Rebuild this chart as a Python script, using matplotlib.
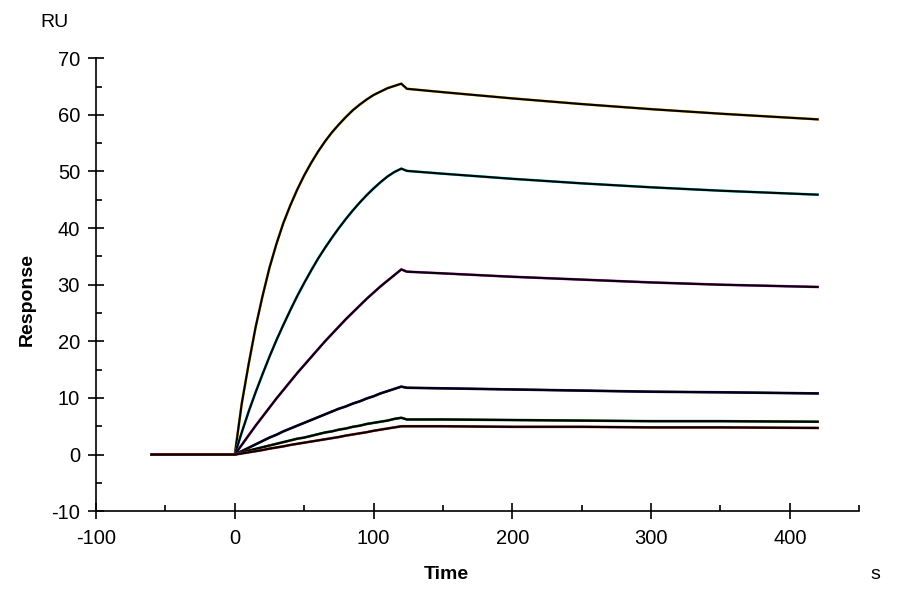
import numpy as np
import matplotlib
matplotlib.use('Agg')
import matplotlib.pyplot as plt
from matplotlib.ticker import MultipleLocator

plt.rcParams['axes.unicode_minus'] = False

# Time points (s)
t_base = [-60, -30, 0]
t_assoc = [0, 5, 10, 15, 20, 25, 30, 35, 40, 45, 50, 55, 60,
           65, 70, 75, 80, 85, 90, 95, 100, 105, 110, 115, 120]
t_dissoc = [120, 124, 150, 200, 250, 300, 350, 420]

# Responses (RU), one list per concentration
base = [0, 0, 0]
assoc1 = [0, 9.0, 16.0, 22.5, 28.0, 33.0, 37.2, 40.9, 44.0, 46.8, 49.3, 51.5, 53.5,
          55.3, 56.9, 58.3, 59.6, 60.8, 61.8, 62.7, 63.5, 64.1, 64.7, 65.1, 65.5]
assoc2 = [0, 3.9, 7.6, 11.0, 14.2, 17.3, 20.2, 22.9, 25.5, 28.0, 30.3, 32.5, 34.6,
          36.5, 38.3, 40.0, 41.6, 43.1, 44.5, 45.8, 47.0, 48.1, 49.1, 49.9, 50.5]
assoc3 = [0, 1.7, 3.4, 5.1, 6.7, 8.3, 9.9, 11.4, 12.9, 14.4, 15.8, 17.2, 18.6,
          20.0, 21.3, 22.6, 23.9, 25.1, 26.3, 27.5, 28.6, 29.7, 30.7, 31.7, 32.7]
assoc4 = [0, 0.6, 1.2, 1.8, 2.4, 3.0, 3.5, 4.1, 4.6, 5.1, 5.6, 6.1, 6.6,
          7.1, 7.6, 8.1, 8.5, 9.0, 9.4, 9.9, 10.3, 10.8, 11.2, 11.6, 12.0]
assoc5 = [0, 0.35, 0.7, 1.0, 1.3, 1.6, 1.9, 2.2, 2.5, 2.8, 3.0, 3.3, 3.6,
          3.9, 4.1, 4.4, 4.6, 4.9, 5.1, 5.4, 5.6, 5.8, 6.0, 6.3, 6.5]
assoc6 = [0, 0.2, 0.4, 0.6, 0.8, 1.05, 1.25, 1.45, 1.7, 1.9, 2.1, 2.3, 2.5,
          2.7, 2.9, 3.1, 3.35, 3.55, 3.75, 3.95, 4.2, 4.4, 4.6, 4.8, 5.0]
dissoc1 = [65.5, 64.6, 64.0, 62.9, 61.9, 61.0, 60.2, 59.2]
dissoc2 = [50.5, 50.1, 49.6, 48.7, 47.9, 47.2, 46.6, 45.9]
dissoc3 = [32.7, 32.3, 32.0, 31.4, 30.9, 30.4, 30.0, 29.6]
dissoc4 = [12.0, 11.8, 11.7, 11.5, 11.3, 11.1, 11.0, 10.8]
dissoc5 = [6.5, 6.2, 6.2, 6.1, 6.0, 5.9, 5.9, 5.8]
dissoc6 = [5.0, 5.0, 5.0, 4.9, 4.9, 4.8, 4.8, 4.7]

assoc = [assoc1, assoc2, assoc3, assoc4, assoc5, assoc6]
dissoc = [dissoc1, dissoc2, dissoc3, dissoc4, dissoc5, dissoc6]
colors = ['#d4a017', '#22c4cc', '#c82ac8', '#1c1c8c', '#1f6e1f', '#c8302c']

plt.rcParams['font.family'] = ['Liberation Sans', 'DejaVu Sans']

fig = plt.figure(figsize=(9, 6), dpi=100)
ax = fig.add_axes([0.1067, 0.148, 0.848, 0.755])

for a, d, c in zip(assoc, dissoc, colors):
    t = t_base + t_assoc[1:] + t_dissoc[1:]
    r = base + a[1:] + d[1:]
    # measured data underneath, fit on top
    ax.plot(t, r, color=c, lw=1.9)
    ax.plot(t, r, color='black', lw=1.5)

ax.set_xlim(-100, 450)
ax.set_ylim(-10, 70)
ax.xaxis.set_major_locator(MultipleLocator(100))
ax.xaxis.set_minor_locator(MultipleLocator(50))
ax.yaxis.set_major_locator(MultipleLocator(10))
ax.yaxis.set_minor_locator(MultipleLocator(5))
ax.tick_params(which='major', direction='inout', length=11, width=1.2,
               labelsize=14.5, pad=6)
ax.tick_params(which='minor', direction='in', length=4, width=1.2)
ax.tick_params(axis='x', which='major', pad=7)

for s in ['top', 'right']:
    ax.spines[s].set_visible(False)
for s in ['left', 'bottom']:
    ax.spines[s].set_linewidth(1.2)

fig.text(0.496, 0.043, 'Time', fontsize=14, fontweight='bold', ha='center', va='center')
fig.text(0.973, 0.043, 's', fontsize=14, ha='center', va='center')
fig.text(0.03, 0.5, 'Response', fontsize=14, fontweight='bold', rotation=90,
         ha='center', va='center')
fig.text(0.061, 0.962, 'RU', fontsize=14, ha='center', va='center')

plt.savefig('out.png', dpi=100)
